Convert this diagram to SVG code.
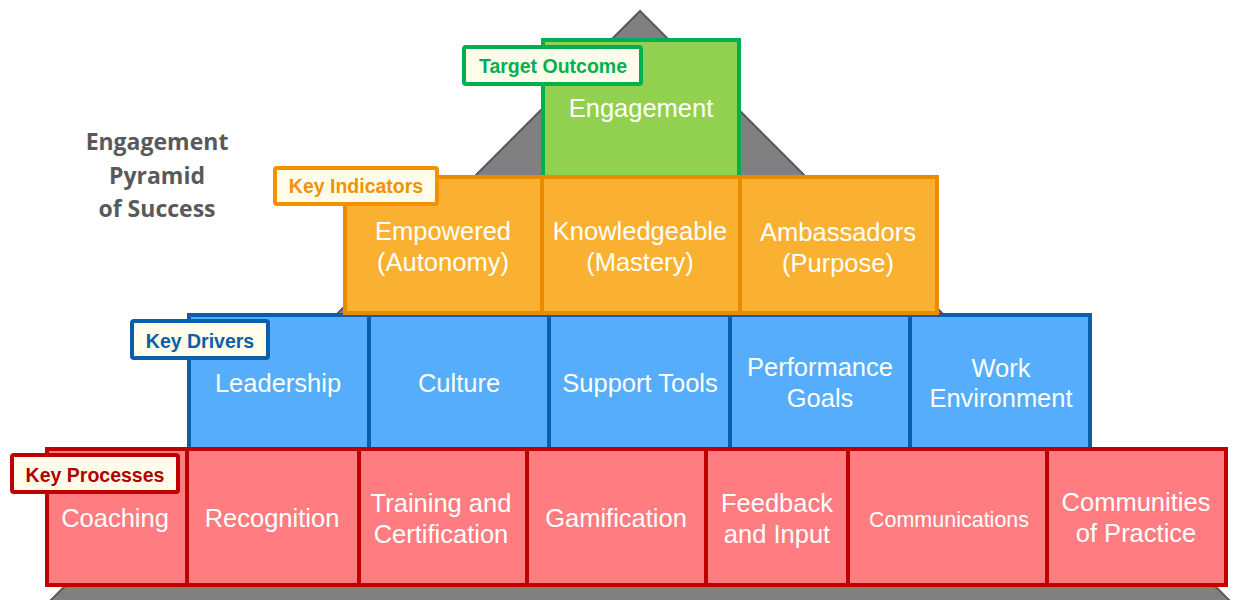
<svg xmlns="http://www.w3.org/2000/svg" width="1236" height="600" viewBox="0 0 1236 600">
<style>
.box{stroke-width:4}
.g{fill:#92d050;stroke:#00b050}
.o{fill:#fab132;stroke:#e88b00}
.b{fill:#55adfb;stroke:#0a5fa8}
.r{fill:#ff7c80;stroke:#c00000}
.t{font-family:"Liberation Sans",Arial,sans-serif;font-size:25.5px;fill:#ffffff;text-anchor:middle}
.sm{font-size:21.5px}
.lbl{fill:#fffdea;stroke-width:4}
.lt{font-family:"Liberation Sans",Arial,sans-serif;font-size:19.5px;font-weight:bold;text-anchor:middle}
.title{font-family:"Open Sans","Liberation Sans",sans-serif;font-size:23px;font-weight:bold;fill:#595959;text-anchor:middle}
</style>
<rect width="1236" height="600" fill="#ffffff"/>
<g id="pyramid">
<polygon points="640,11 39,612 1241,612" fill="#808080" stroke="#595959" stroke-width="2"/>
</g>
<g id="title">
<text class="title" x="157" y="150">Engagement</text>
<text class="title" x="157" y="184">Pyramid</text>
<text class="title" x="157" y="217">of Success</text>
</g>
<g id="connectors"></g>
<g id="node-engagement">
<rect class="box g" x="543" y="40" width="196" height="137"/>
<text class="t" x="641" y="117">Engagement</text>
</g>
<g id="row-drivers">
<g id="node-leadership"><rect class="box b" x="189" y="315" width="180" height="134"/><text class="t" x="278" y="392">Leadership</text></g>
<g id="node-culture"><rect class="box b" x="369" y="315" width="180" height="134"/><text class="t" x="459" y="392">Culture</text></g>
<g id="node-support-tools"><rect class="box b" x="549" y="315" width="181" height="134"/><text class="t" x="640" y="392">Support Tools</text></g>
<g id="node-performance-goals"><rect class="box b" x="730" y="315" width="180" height="134"/><text class="t" x="820" y="376">Performance</text><text class="t" x="820" y="407">Goals</text></g>
<g id="node-work-environment"><rect class="box b" x="910" y="315" width="180" height="134"/><text class="t" x="1001" y="377">Work</text><text class="t" x="1001" y="407">Environment</text></g>
</g>
<g id="row-indicators">
<g id="node-empowered"><rect class="box o" x="345" y="177" width="197" height="136"/><text class="t" x="443" y="240">Empowered</text><text class="t" x="443" y="271">(Autonomy)</text></g>
<g id="node-knowledgeable"><rect class="box o" x="542" y="177" width="198" height="136"/><text class="t" x="640" y="240">Knowledgeable</text><text class="t" x="640" y="271">(Mastery)</text></g>
<g id="node-ambassadors"><rect class="box o" x="740" y="177" width="197" height="136"/><text class="t" x="838" y="241">Ambassadors</text><text class="t" x="838" y="272">(Purpose)</text></g>
</g>
<g id="row-processes">
<g id="node-coaching"><rect class="box r" x="47" y="449" width="140" height="136"/><text class="t" x="115" y="527">Coaching</text></g>
<g id="node-recognition"><rect class="box r" x="187" y="449" width="172" height="136"/><text class="t" x="272" y="527">Recognition</text></g>
<g id="node-training"><rect class="box r" x="359" y="449" width="168" height="136"/><text class="t" x="441" y="512">Training and</text><text class="t" x="441" y="543">Certification</text></g>
<g id="node-gamification"><rect class="box r" x="527" y="449" width="179" height="136"/><text class="t" x="616" y="527">Gamification</text></g>
<g id="node-feedback"><rect class="box r" x="706" y="449" width="142" height="136"/><text class="t" x="777" y="512">Feedback</text><text class="t" x="777" y="543">and Input</text></g>
<g id="node-communications"><rect class="box r" x="848" y="449" width="199" height="136"/><text class="t sm" x="949" y="527">Communications</text></g>
<g id="node-communities"><rect class="box r" x="1047" y="449" width="179" height="136"/><text class="t" x="1136" y="511">Communities</text><text class="t" x="1136" y="542">of Practice</text></g>
</g>
<g id="label-target-outcome"><rect class="lbl" x="464" y="47" width="177" height="37" rx="2" stroke="#00b050"/><text class="lt" x="553" y="73" fill="#00b050">Target Outcome</text></g>
<g id="label-key-indicators"><rect class="lbl" x="275" y="168" width="162" height="36" rx="2" stroke="#f39200"/><text class="lt" x="356" y="193" fill="#f39200">Key Indicators</text></g>
<g id="label-key-drivers"><rect class="lbl" x="132" y="321" width="136" height="37" rx="2" stroke="#0a5fa8"/><text class="lt" x="200" y="348" fill="#0a5fa8">Key Drivers</text></g>
<g id="label-key-processes"><rect class="lbl" x="12" y="455" width="166" height="37" rx="2" stroke="#c00000"/><text class="lt" x="95" y="482" fill="#b00000">Key Processes</text></g>
</svg>
